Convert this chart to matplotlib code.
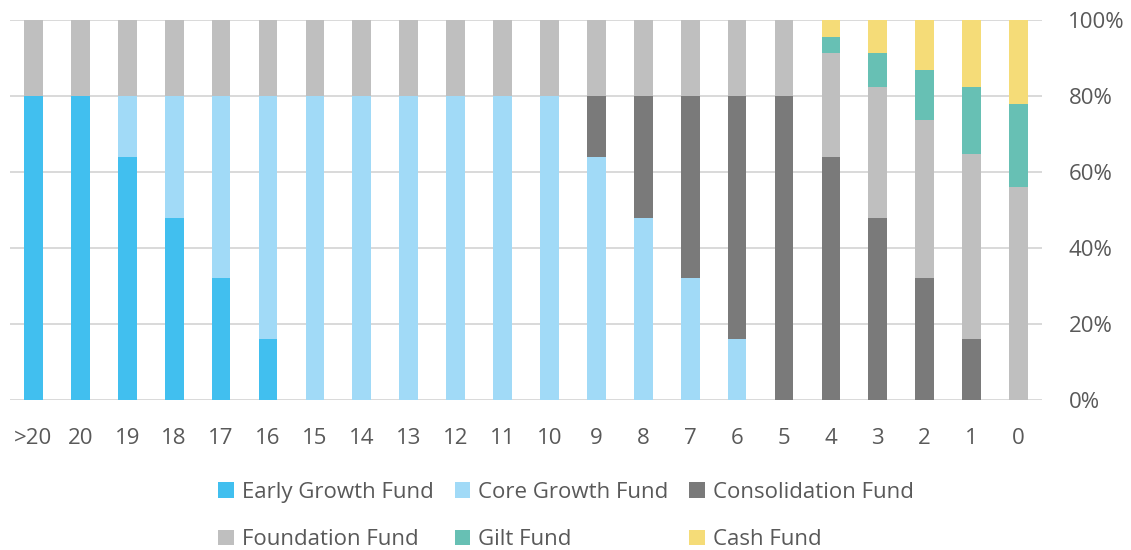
import matplotlib
matplotlib.use("Agg")
import matplotlib.pyplot as plt
import numpy as np

categories = [">20", "20", "19", "18", "17", "16", "15", "14", "13", "12", "11",
              "10", "9", "8", "7", "6", "5", "4", "3", "2", "1", "0"]
early_growth = [80, 80, 64, 48, 32, 16, 0, 0, 0, 0, 0, 0, 0, 0, 0, 0, 0, 0, 0, 0, 0, 0]
core_growth = [0, 0, 16, 32, 48, 64, 80, 80, 80, 80, 80, 80, 64, 48, 32, 16, 0, 0, 0, 0, 0, 0]
consolidation = [0, 0, 0, 0, 0, 0, 0, 0, 0, 0, 0, 0, 16, 32, 48, 64, 80, 64, 48, 32, 16, 0]
foundation = [20, 20, 20, 20, 20, 20, 20, 20, 20, 20, 20, 20, 20, 20, 20, 20, 20,
              27.2, 34.4, 41.6, 48.8, 56]
gilt = [0] * 17 + [4.4, 8.8, 13.2, 17.6, 22]
cash = [0] * 17 + [4.4, 8.8, 13.2, 17.6, 22]

series_names = ["Early Growth Fund", "Core Growth Fund", "Consolidation Fund",
                "Foundation Fund", "Gilt Fund", "Cash Fund"]
series_values = [early_growth, core_growth, consolidation, foundation, gilt, cash]
colors = ["#41BFEF", "#A1DAF7", "#7A7A7A", "#BFBFBF", "#67C0B4", "#F5DC78"]

text_color = "#595959"
plt.rcParams["font.family"] = ["Open Sans", "DejaVu Sans"]

fig = plt.figure(figsize=(11.31, 5.5), dpi=100)
ax = fig.add_axes([10 / 1131, 150 / 550, 1032 / 1131, 380 / 550])

x = np.arange(len(categories))
bottom = np.zeros(len(categories))
handles = []
for name, vals, c in zip(series_names, series_values, colors):
    vals = np.array(vals, dtype=float)
    b = ax.bar(x, vals, width=0.4, bottom=bottom, color=c, label=name, zorder=3)
    handles.append(b)
    bottom += vals

ax.set_xlim(-0.5, len(categories) - 0.5)
ax.set_ylim(0, 100)
ax.set_yticks([0, 20, 40, 60, 80, 100])
ax.set_yticklabels([f"{v}%" for v in [0, 20, 40, 60, 80, 100]])
ax.yaxis.tick_right()
ax.set_xticks(x)
ax.set_xticklabels(categories)
ax.tick_params(axis="both", length=0, labelsize=16, colors=text_color)
ax.tick_params(axis="y", pad=19)
ax.tick_params(axis="x", pad=20)
ax.grid(axis="y", color="#D9D9D9", linewidth=1.4, zorder=0)
ax.set_axisbelow(True)
for s in ax.spines.values():
    s.set_visible(False)

order = [0, 3, 1, 4, 2, 5]
leg = fig.legend([handles[i] for i in order], [series_names[i] for i in order],
                 ncol=3, loc="center", bbox_to_anchor=(566 / 1131, 1 - 516 / 550),
                 frameon=False, fontsize=16, handlelength=0.7, handleheight=0.7,
                 handletextpad=0.35, columnspacing=0.95, labelspacing=1.2,
                 labelcolor=text_color)

fig.savefig("out.png", dpi=100)
